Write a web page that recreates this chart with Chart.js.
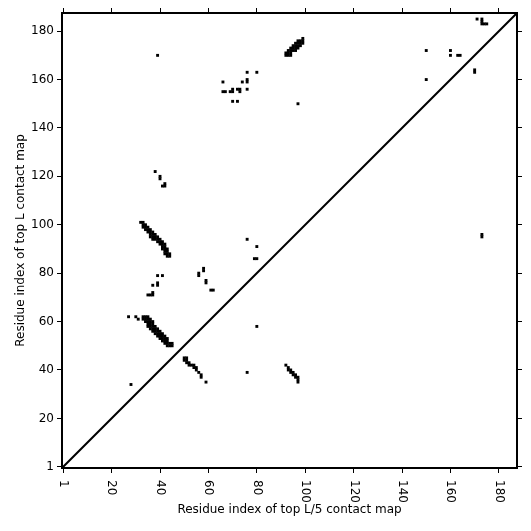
<!DOCTYPE html>
<html><head><meta charset="utf-8">
<script src="https://cdn.jsdelivr.net/npm/chart.js@4/dist/chart.umd.min.js"></script>
<style>html,body{margin:0;padding:0;background:#fff;}</style>
</head><body>
<canvas id="c" width="531" height="531"></canvas>
<script>
// ---- data ----
const axisMin = -0.5, axisMax = 187.5;   // 188 residues, cells centred on indices
const tickValues = [0, 20, 40, 60, 80, 100, 120, 140, 160, 180];
const tickLabels = ['1', '20', '40', '60', '80', '100', '120', '140', '160', '180'];
const xTitle = 'Residue index of top L/5 contact map';
const yTitle = 'Residue index of top L contact map';

// contact cells [residue i, residue j]
const strandA = [[32,101],[33,101],[33,100],[34,100],[33,99],[34,99],[35,99],[34,98],[35,98],[36,98],
  [35,97],[36,97],[37,97],[36,96],[37,96],[38,96],[36,95],[37,95],[38,95],[39,95],
  [37,94],[38,94],[39,94],[40,94],[39,93],[40,93],[41,93],[40,92],[41,92],[42,92],
  [41,91],[42,91],[41,90],[42,90],[43,90],[42,89],[43,89],[42,88],[43,88],[44,88],[43,87],[44,87]];
const strandB = [[27,62],[30,62],[31,61],[33,62],[34,62],[35,62],[33,61],[34,61],[35,61],[36,61],
  [34,60],[35,60],[36,60],[37,60],[35,59],[36,59],[37,59],[35,58],[36,58],[37,58],[38,58],
  [36,57],[37,57],[38,57],[39,57],[37,56],[38,56],[39,56],[40,56],[38,55],[39,55],[40,55],[41,55],
  [39,54],[40,54],[41,54],[42,54],[40,53],[41,53],[42,53],[43,53],[41,52],[42,52],[43,52],
  [42,51],[43,51],[44,51],[45,51],[43,50],[44,50],[45,50]];
const clusterMid = [[39,79],[41,79],[37,75],[39,75],[39,76],[35,71],[36,71],[37,71],[37,72],
  [56,80],[56,79],[58,81],[58,82],[59,77],[59,76],[61,73],[62,73],[28,34],
  [80,91],[76,94],[79,86],[80,86],[80,58]];
const strandC = [[50,45],[51,45],[50,44],[51,44],[51,43],[52,43],[52,42],[53,42],[54,42],[54,41],[55,41],
  [55,40],[56,39],[57,38],[57,37],[59,35]];
const strandD = [[76,39],[92,42],[93,41],[93,40],[94,40],[94,39],[95,39],[95,38],[96,38],[96,37],[97,37],[97,36],[97,35]];
const clusterUpper = [[39,170],[38,122],[40,120],[40,119],[41,116],[42,116],[42,117],
  [76,163],[80,163],[66,159],[74,159],[76,159],[76,160],[66,155],[67,155],[69,155],[70,155],[70,156],
  [72,156],[73,156],[73,155],[76,156],[70,151],[72,151],[97,150]];
const strandE = [[92,170],[93,170],[94,170],[92,171],[93,171],[94,171],[93,172],[94,172],[95,172],[96,172],
  [94,173],[95,173],[96,173],[97,173],[95,174],[96,174],[97,174],[98,174],[96,175],[97,175],[98,175],[99,175],
  [97,176],[98,176],[99,176],[99,177]];
const clusterFar = [[171,185],[173,185],[173,184],[173,183],[174,183],[175,183],
  [150,172],[160,172],[160,170],[163,170],[164,170],[170,163],[170,164],[150,160],[173,95],[173,96]];

// ---- chart ----
const FONT = {family: '"DejaVu Sans", sans-serif', size: 12};
const cells = [].concat(strandA, strandB, clusterMid, strandC, strandD, clusterUpper, strandE, clusterFar)
  .map(p => ({x: p[0], y: p[1]}));

function axis(position, opts) {
  const base = {
    type: 'linear', position, min: axisMin, max: axisMax,
    afterBuildTicks: s => { s.ticks = tickValues.map(v => ({value: v})); },
    ticks: {display: false},
    grid: {display: true, drawOnChartArea: false, drawTicks: true, tickLength: 5,
           color: '#000', tickColor: '#000', lineWidth: 1},
    border: {display: true, color: '#000', width: 2}
  };
  return Object.assign(base, opts);
}

const xLabelPlugin = {
  id: 'xLabels',
  afterDraw(chart) {
    const s = chart.scales.x, ctx = chart.ctx;
    ctx.save();
    ctx.font = '12px "DejaVu Sans", sans-serif';
    ctx.fillStyle = '#000';
    ctx.textAlign = 'left';
    ctx.textBaseline = 'middle';
    tickValues.forEach((v, i) => {
      ctx.save();
      ctx.translate(s.getPixelForValue(v), s.top + 12);
      ctx.rotate(Math.PI / 2);
      ctx.fillText(tickLabels[i], 0, 0);
      ctx.restore();
    });
    ctx.restore();
  }
};

new Chart(document.getElementById('c'), {
  type: 'scatter',
  data: {
    datasets: [
      {data: cells, pointStyle: 'rect', pointRadius: 2.05, pointHoverRadius: 2.05,
       backgroundColor: '#000', borderWidth: 0, xAxisID: 'x', yAxisID: 'y'},
      {type: 'line', data: [{x: axisMin, y: axisMin}, {x: axisMax, y: axisMax}],
       borderColor: '#000', borderWidth: 2, pointRadius: 0, showLine: true, fill: false,
       xAxisID: 'x', yAxisID: 'y'}
    ]
  },
  options: {
    responsive: false, animation: false, devicePixelRatio: 1, events: [],
    layout: {padding: 0},
    plugins: {legend: {display: false}, tooltip: {enabled: false}},
    scales: {
      x: axis('bottom', {
        title: {display: true, text: xTitle, font: FONT, color: '#000', padding: {top: 0, bottom: 14}},
        afterFit: s => { s.height = 63; }
      }),
      y: axis('left', {
        ticks: {display: true, font: FONT, color: '#000', padding: 3,
                callback: v => tickLabels[tickValues.indexOf(v)]},
        title: {display: true, text: yTitle, font: FONT, color: '#000', padding: {top: 14, bottom: 0}},
        afterFit: s => { s.width = 62; }
      }),
      x2: axis('top', {afterFit: s => { s.height = 13; }}),
      y2: axis('right', {afterFit: s => { s.width = 14; }})
    }
  },
  plugins: [xLabelPlugin]
});
</script>
</body></html>
